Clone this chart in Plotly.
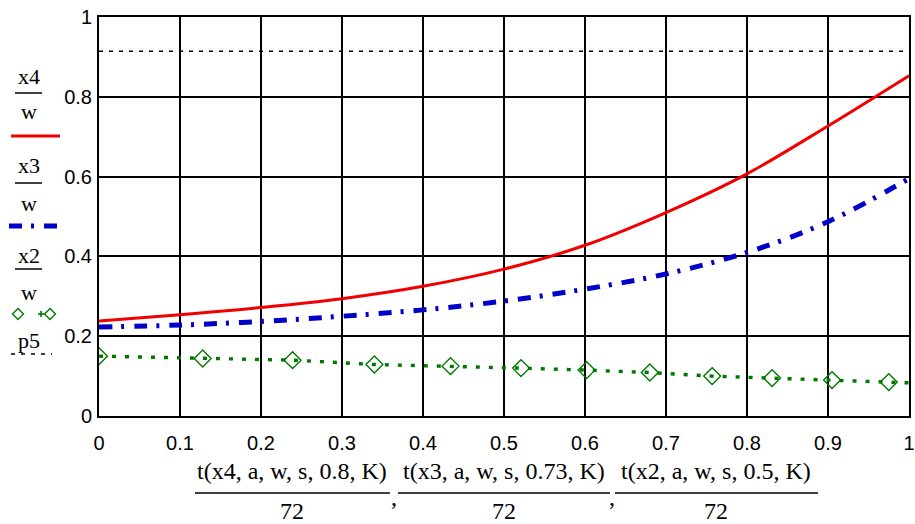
import plotly.graph_objects as go

# ---- data ----
x_red = [0.0, 0.1, 0.2, 0.3, 0.4, 0.5, 0.6, 0.7, 0.8, 0.9, 1.0]
y_red = [0.238, 0.254, 0.272, 0.294, 0.325, 0.368, 0.428, 0.510, 0.607, 0.727, 0.853]

x_blue = [0.0, 0.1, 0.2, 0.3, 0.4, 0.5, 0.6, 0.7, 0.8, 0.9, 1.0]
y_blue = [0.223, 0.228, 0.237, 0.250, 0.266, 0.288, 0.318, 0.356, 0.410, 0.487, 0.595]

x_green = [0.0, 0.128, 0.239, 0.34, 0.434, 0.521, 0.602, 0.68, 0.757, 0.831, 0.905, 0.975, 1.045]
y_green = [0.150, 0.144, 0.140, 0.129, 0.125, 0.120, 0.115, 0.109, 0.100, 0.095, 0.090, 0.085, 0.080]

x_p5 = [0.0, 1.0]
y_p5 = [0.914, 0.914]

x_ticks = [0, 0.1, 0.2, 0.3, 0.4, 0.5, 0.6, 0.7, 0.8, 0.9, 1]
y_ticks = [0, 0.2, 0.4, 0.6, 0.8, 1]

legend_num = ["x4", "x3", "x2"]
legend_den = ["w", "w", "w"]
legend_last = "p5"
title_num = ["t(x4, a, w, s, 0.8, K)", "t(x3, a, w, s, 0.73, K)", "t(x2, a, w, s, 0.5, K)"]
title_den = ["72", "72", "72"]

RED = "#f00000"
BLUE = "#0000c8"
GREEN = "#007800"

# ---- layout geometry (page pixels; body margin removed by post_script) ----
W, H = 915, 524
PLOT_L, PLOT_T, PLOT_R, PLOT_B = 99, 17, 909, 416   # page coords of plot box
L = PLOT_L
T = PLOT_T
PW = PLOT_R - PLOT_L
PH = PLOT_B - PLOT_T
R = W - L - PW
B = H - T - PH


def px(x):
    return (x - PLOT_L) / PW


def py(y):
    return (PLOT_B - y) / PH


fig = go.Figure()

fig.add_trace(go.Scatter(x=x_p5, y=y_p5, mode="lines",
                         line=dict(color="black", width=1.6, dash="4px,6px"),
                         showlegend=False, hoverinfo="skip"))
fig.add_trace(go.Scatter(x=x_green, y=y_green, mode="lines+markers",
                         line=dict(color=GREEN, width=3.4, dash="4px,9px"),
                         marker=dict(symbol="diamond-open", size=13, color=GREEN,
                                     line=dict(width=1.4, color=GREEN)),
                         cliponaxis=True, showlegend=False))
fig.add_trace(go.Scatter(x=x_blue, y=y_blue, mode="lines", line_shape="spline",
                         line=dict(color=BLUE, width=5, dash="13px,9px,3px,10px"),
                         showlegend=False))
fig.add_trace(go.Scatter(x=x_red, y=y_red, mode="lines", line_shape="spline",
                         line=dict(color=RED, width=3),
                         showlegend=False))

tick_font = dict(family="Liberation Sans, Arial, sans-serif", size=20, color="black")
serif_leg = dict(family="Liberation Serif, Times New Roman, serif", size=22, color="black")
serif_title = dict(family="Liberation Serif, Times New Roman, serif", size=24, color="black")

fig.update_xaxes(range=[0, 1], tickvals=x_ticks, ticktext=[f"{v:g}" for v in x_ticks],
                 showgrid=True, gridcolor="black", gridwidth=1.5, zeroline=False,
                 showline=True, linecolor="black", linewidth=2, mirror=True,
                 ticks="", tickfont=tick_font, ticklabelstandoff=8,
                 ticklabeloverflow="allow")
fig.update_yaxes(range=[0, 1], tickvals=y_ticks, ticktext=[f"{v:g}" for v in y_ticks],
                 showgrid=True, gridcolor="black", gridwidth=1.5, zeroline=False,
                 showline=True, linecolor="black", linewidth=2, mirror=True,
                 ticks="", tickfont=tick_font, ticklabelstandoff=1,
                 ticklabeloverflow="allow")

annotations = []
shapes = []

# legend on the left
num_y = [76, 165, 255]
bar_y = [93, 183, 269]
den_y = [111, 203, 292]
for n, d, ny, by, dy in zip(legend_num, legend_den, num_y, bar_y, den_y):
    annotations.append(dict(x=px(29), y=py(ny), xref="paper", yref="paper", text=n,
                            showarrow=False, font=serif_leg, xanchor="center", yanchor="middle"))
    annotations.append(dict(x=px(29), y=py(dy), xref="paper", yref="paper", text=d,
                            showarrow=False, font=serif_leg, xanchor="center", yanchor="middle"))
    shapes.append(dict(type="line", xref="paper", yref="paper", x0=px(15), x1=px(42),
                       y0=py(by), y1=py(by), line=dict(color="black", width=1.5)))
annotations.append(dict(x=px(29), y=py(340), xref="paper", yref="paper", text=legend_last,
                        showarrow=False, font=serif_leg, xanchor="center", yanchor="middle"))

# legend line samples
shapes.append(dict(type="line", xref="paper", yref="paper", x0=px(11), x1=px(60),
                   y0=py(136), y1=py(136), line=dict(color=RED, width=3)))
shapes.append(dict(type="line", xref="paper", yref="paper", x0=px(9), x1=px(59),
                   y0=py(226), y1=py(226), line=dict(color=BLUE, width=5, dash="13px,9px,3px,10px")))
shapes.append(dict(type="line", xref="paper", yref="paper", x0=px(11), x1=px(52),
                   y0=py(354), y1=py(354), line=dict(color="black", width=1.6, dash="4px,6px")))
for cx in (18, 50):
    s = 5.5
    path = (f"M {px(cx - s)} {py(314)} L {px(cx)} {py(314 - s)} "
            f"L {px(cx + s)} {py(314)} L {px(cx)} {py(314 + s)} Z")
    shapes.append(dict(type="path", xref="paper", yref="paper", path=path,
                       line=dict(color=GREEN, width=1.4)))
shapes.append(dict(type="line", xref="paper", yref="paper", x0=px(38), x1=px(44),
                   y0=py(314), y1=py(314), line=dict(color=GREEN, width=1.6)))
shapes.append(dict(type="line", xref="paper", yref="paper", x0=px(41), x1=px(41),
                   y0=py(311), y1=py(317), line=dict(color=GREEN, width=1.6)))

# x-axis title (three fractions)
frac_cx = [292, 504, 716]
frac_x0 = [195, 398, 615]
frac_x1 = [390, 610, 818]
for n, d, cx, x0, x1 in zip(title_num, title_den, frac_cx, frac_x0, frac_x1):
    annotations.append(dict(x=px(cx), y=py(471), xref="paper", yref="paper", text=n,
                            showarrow=False, font=serif_title, xanchor="center", yanchor="middle"))
    annotations.append(dict(x=px(cx), y=py(511), xref="paper", yref="paper", text=d,
                            showarrow=False, font=serif_title, xanchor="center", yanchor="middle"))
    shapes.append(dict(type="line", xref="paper", yref="paper", x0=px(x0), x1=px(x1),
                       y0=py(493), y1=py(493), line=dict(color="black", width=1.5)))
for cx in (394, 612):
    annotations.append(dict(x=px(cx), y=py(497), xref="paper", yref="paper", text=",",
                            showarrow=False, font=serif_title, xanchor="center", yanchor="middle"))

fig.update_layout(width=W, height=H, margin=dict(l=L, r=R, t=T, b=B, autoexpand=False),
                  paper_bgcolor="white", plot_bgcolor="white",
                  annotations=annotations, shapes=shapes, showlegend=False)

fig.write_html("out.html", config={"displayModeBar": False},
               post_script="document.body.style.margin='0';document.body.style.overflow='hidden';")
